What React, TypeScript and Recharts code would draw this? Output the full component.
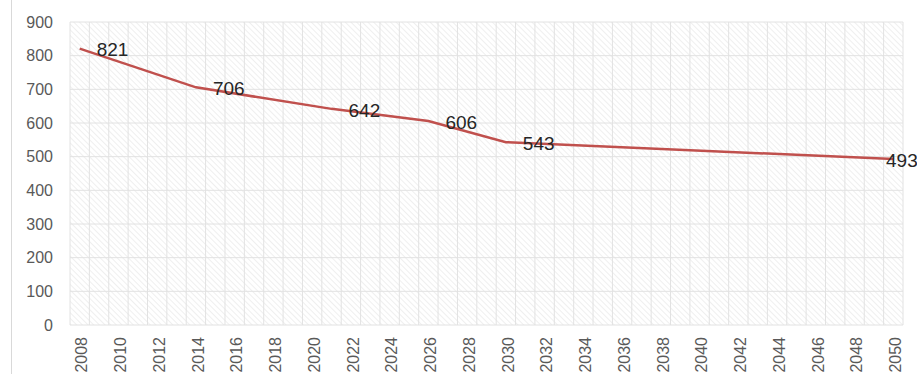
import React from "react";
import { LineChart, Line, XAxis, YAxis, CartesianGrid, LabelList } from "recharts";

const YEARS = [
  "2008", "2009", "2010", "2011", "2012", "2013", "2014", "2015", "2016", "2017",
  "2018", "2019", "2020", "2021", "2022", "2023", "2024", "2025", "2026", "2027",
  "2028", "2029", "2030", "2031", "2032", "2033", "2034", "2035", "2036", "2037",
  "2038", "2039", "2040", "2041", "2042", "2043", "2044", "2045", "2046", "2047",
  "2048", "2049", "2050",
];

// labelled points
const POINT_YEARS = ["2008", "2014", "2021", "2026", "2030", "2050"];
const POINT_VALUES = [821, 706, 642, 606, 543, 493];

const X_TICKS = [
  "2008", "2010", "2012", "2014", "2016", "2018", "2020", "2022", "2024", "2026",
  "2028", "2030", "2032", "2034", "2036", "2038", "2040", "2042", "2044", "2046",
  "2048", "2050",
];
const Y_TICKS = [0, 100, 200, 300, 400, 500, 600, 700, 800, 900];

const data = YEARS.map((year) => {
  const i = POINT_YEARS.indexOf(year);
  return { year, value: i >= 0 ? POINT_VALUES[i] : null };
});

const W = 917;
const H = 383;
const PLOT_LEFT = 70;
const PLOT_RIGHT = 903;
const STEP = (PLOT_RIGHT - PLOT_LEFT) / YEARS.length;
const FONT = "'Liberation Sans', Arial, sans-serif";

const XTick = ({ x, y, payload }: any) => (
  <g transform={`translate(${x + 2},${y})`}>
    <text
      transform="rotate(-90)"
      textAnchor="end"
      dy="0.36em"
      fontSize={16}
      fontFamily={FONT}
      fill="#595959"
    >
      {payload.value}
    </text>
  </g>
);

const PointLabel = ({ x, y, value }: any) => {
  if (value == null) return null;
  return (
    <text
      x={Math.min(x + 17, 886)}
      y={y + 1}
      dy="0.36em"
      fontSize={19}
      fontFamily={FONT}
      fill="#262626"
    >
      {value}
    </text>
  );
};

export default function App() {
  const verticalLines = () =>
    YEARS.map((_, i) => PLOT_LEFT + i * STEP).concat([PLOT_RIGHT]);

  return (
    <div style={{ position: "absolute", left: 0, top: 0, width: W, height: H, background: "#fff" }}>
      <div style={{ position: "absolute", left: 11, top: 0, width: 1, height: 374, background: "#d9d9d9" }} />
      <div style={{ position: "absolute", left: 0, top: 0 }}>
        <LineChart width={W} height={H} data={data} margin={{ top: 22, right: W - PLOT_RIGHT, bottom: 8, left: 10 }}>
          <defs>
            <pattern id="hatch" width="4" height="4" patternUnits="userSpaceOnUse" patternTransform="rotate(-45)">
              <rect width="4" height="4" fill="#ffffff" />
              <line x1="0" y1="0" x2="0" y2="4" stroke="#ececec" strokeWidth="1.6" />
            </pattern>
          </defs>
          <CartesianGrid
            fill="url(#hatch)"
            fillOpacity={1}
            stroke="#e2e2e2"
            verticalCoordinatesGenerator={verticalLines}
          />
          <XAxis
            dataKey="year"
            ticks={X_TICKS}
            interval={0}
            axisLine={false}
            tickLine={false}
            tickSize={0}
            tickMargin={12}
            height={50}
            padding={{ left: STEP / 2, right: STEP / 2 }}
            tick={<XTick />}
          />
          <YAxis
            domain={[0, 900]}
            ticks={Y_TICKS}
            width={60}
            axisLine={false}
            tickLine={false}
            tickSize={0}
            tickMargin={17}
            tick={{ fill: "#595959", fontSize: 16, fontFamily: FONT }}
          />
          <Line
            type="linear"
            dataKey="value"
            stroke="#c0504d"
            strokeWidth={2.5}
            dot={false}
            connectNulls
            isAnimationActive={false}
          >
            <LabelList dataKey="value" content={<PointLabel />} />
          </Line>
        </LineChart>
      </div>
    </div>
  );
}
